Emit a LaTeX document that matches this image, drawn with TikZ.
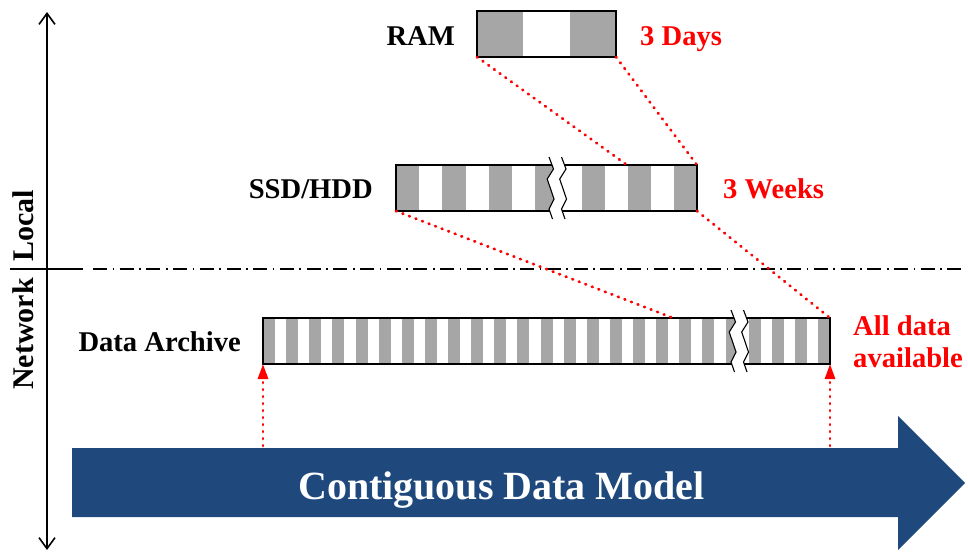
\documentclass[tikz,border=0pt]{standalone}
\usepackage{fontspec}
\setmainfont{Liberation Serif}
\usetikzlibrary{arrows.meta}

\definecolor{stripegray}{HTML}{A6A6A6}
\definecolor{modelblue}{HTML}{1F497D}

% Zig-zag cut through a storage bar: #1 = x of the left cut line, #2 = top edge of the bar
\newcommand\cutmark[2]{%
  \fill[white] (#1,#2-8) -- (#1+4.5,#2+4) -- (#1-1.8,#2+14) -- (#1+5,#2+34) -- (#1,#2+44) -- (#1+3.5,#2+54)
    -- (#1+16,#2+54) -- (#1+12.5,#2+44) -- (#1+17.5,#2+34) -- (#1+10.7,#2+14) -- (#1+17,#2+4) -- (#1+12.5,#2-8) -- cycle;
  \draw[cutline] (#1,#2-8) -- (#1+4.5,#2+4) -- (#1-1.8,#2+14) -- (#1+5,#2+34) -- (#1,#2+44) -- (#1+3.5,#2+54);
  \draw[cutline] (#1+12.5,#2-8) -- (#1+17,#2+4) -- (#1+10.7,#2+14) -- (#1+17.5,#2+34) -- (#1+12.5,#2+44) -- (#1+16,#2+54);
}

\begin{document}
\begin{tikzpicture}[x=1pt,y=-1pt,
  lbl/.style={font=\fontsize{28.6}{32}\selectfont\bfseries, inner sep=0pt},
  tierlbl/.style={lbl, text=black, anchor=base east},
  spanlbl/.style={lbl, text=red, anchor=base west},
  sidelbl/.style={font=\fontsize{30}{32}\selectfont\bfseries, inner sep=0pt, rotate=90, anchor=base west},
  bar/.style={draw=black, line width=1.3pt, inner sep=0pt, outer sep=0pt, minimum height=46pt, anchor=north west},
  stripe/.style={fill=stripegray},
  cutline/.style={black, line width=1.1pt},
  link/.style={red, line width=2.8pt, line cap=round, dash pattern=on 0.8pt off 6.2pt},
  feed/.style={link, -{Triangle[length=15pt,width=10pt]}},
  axis/.style={line width=1.6pt, {Straight Barb[length=11pt,width=16pt,line width=1.6pt]}-{Straight Barb[length=11pt,width=16pt,line width=1.6pt]}},
  divider/.style={line width=1.6pt, dash pattern=on 14pt off 5.5pt on 1.7pt off 5.5pt},
]
\useasboundingbox (0,0) rectangle (968,554);

% ---- stripes of the three storage tiers ----
\foreach \k in {0,1}
  \fill[stripe] (477+92.5*\k,11) rectangle ++(46.3,46);
\foreach \k in {0,...,6}
  \fill[stripe] (396+46.4*\k,165) rectangle ++(23.2,46);
\foreach \k in {0,...,24}
  \fill[stripe] (263+23.125*\k,318) rectangle ++(12,46);

% ---- bar outlines ----
\node[bar, minimum width=139pt] (ram)  at (477,11)  {};
\node[bar, minimum width=301pt] (ssd)  at (396,165) {};
\node[bar, minimum width=567pt] (arch) at (263,318) {};

% breaks in the longer bars
\cutmark{549}{165}
\cutmark{731}{318}

% ---- tier labels ----
\node[tierlbl] (ramlbl)  at (455,45)  {RAM};
\node[tierlbl] (ssdlbl)  at (373,198) {SSD/HDD};
\node[tierlbl] (archlbl) at (241,351) {Data Archive};

\node[spanlbl] (days)  at (640,45)  {3 Days};
\node[spanlbl] (weeks) at (723,198) {3 Weeks};
\node[lbl, text=red, anchor=west, align=left] (all) at (853,342) {All data\\available};

% ---- local / network axis ----
\coordinate (axtop) at (47,12);
\coordinate (axbot) at (47,550);
\draw[axis] (axtop) -- (axbot);

\coordinate (divl) at (10,269);
\coordinate (divm) at (83,269);
\coordinate (divs) at (93,269);
\coordinate (divr) at (962,269);
\draw[line width=1.6pt] (divl) -- (divm);
\draw[divider] (divs) -- (divr);

\node[sidelbl] (local)   at (33,262) {Local};
\node[sidelbl] (network) at (33,390) {Network};

% ---- dotted mappings between tiers ----
\coordinate (ssdhit)  at (627,165);
\coordinate (archhit) at (673,318);
\draw[link] (ram.south west) -- (ssdhit);
\draw[link] (ram.south east) -- (ssd.north east);
\draw[link] (ssd.south west) -- (archhit);
\draw[link] (ssd.south east) -- (arch.north east);

% ---- data model arrow ----
\fill[modelblue] (72,448) -- (898,448) -- (898,416) -- (965,483) -- (898,550) -- (898,517) -- (72,517) -- cycle;
\node[font=\fontsize{40}{44}\selectfont\bfseries, text=white, inner sep=0pt, anchor=base] (model) at (501.5,499) {Contiguous Data Model};

\coordinate (feedl) at (263,446);
\coordinate (feedr) at (830,446);
\draw[feed] (feedl) -- (arch.south west);
\draw[feed] (feedr) -- (arch.south east);
\end{tikzpicture}
\end{document}
